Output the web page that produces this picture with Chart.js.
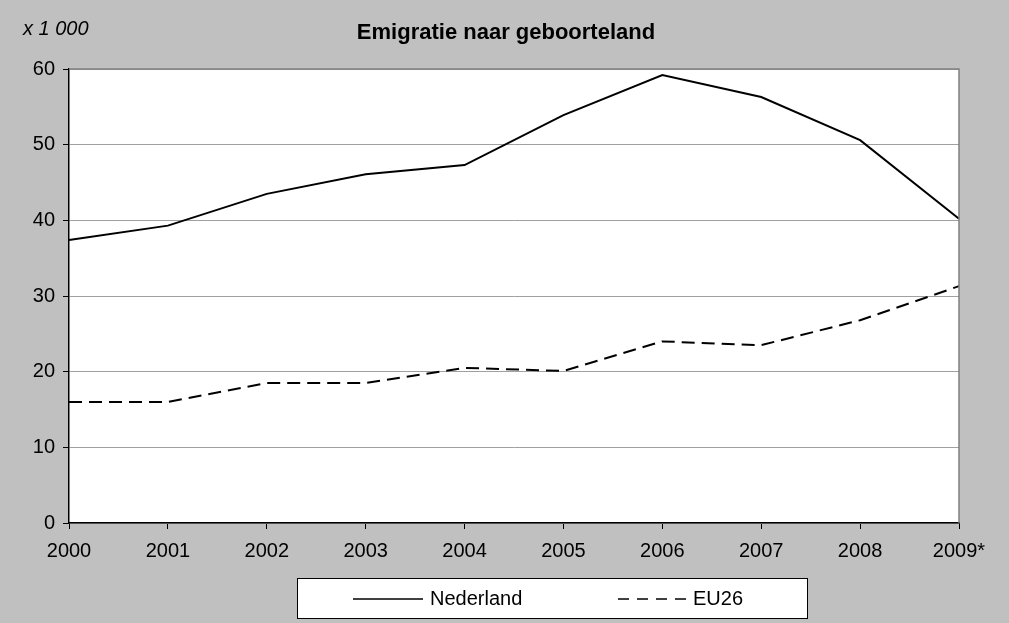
<!DOCTYPE html>
<html>
<head>
<meta charset="utf-8">
<script src="https://cdn.jsdelivr.net/npm/chart.js@4/dist/chart.umd.min.js"></script>
<style>
  html, body { margin: 0; padding: 0; background: #c0c0c0; }
  canvas { display: block; }
</style>
</head>
<body>
<canvas id="grafiek" width="1009" height="623"></canvas>
<script>
const jaren = ['2000', '2001', '2002', '2003', '2004', '2005', '2006', '2007', '2008', '2009*'];
const nederland = [37.4, 39.3, 43.5, 46.1, 47.3, 53.9, 59.2, 56.3, 50.6, 40.2];
const eu26 = [16.0, 16.0, 18.5, 18.5, 20.5, 20.1, 24.0, 23.5, 26.8, 31.3];
const reeksNamen = ['Nederland', 'EU26'];
const titel = 'Emigratie naar geboorteland';
const eenheid = 'x 1 000';

const lettertype = "'Liberation Sans', Arial, sans-serif";

// achtergrond van het plotvlak, kader en titel/legenda
const kaderPlugin = {
  id: 'kader',
  beforeDraw(chart) {
    const { ctx, chartArea: a } = chart;
    ctx.save();
    ctx.fillStyle = '#ffffff';
    ctx.fillRect(a.left, a.top, a.right - a.left, a.bottom - a.top);
    ctx.restore();
  },
  afterDraw(chart) {
    const { ctx, chartArea: a } = chart;
    ctx.save();
    // bovenste en rechter rand
    ctx.strokeStyle = '#808080';
    ctx.lineWidth = 1.5;
    ctx.beginPath();
    ctx.moveTo(a.left, a.top);
    ctx.lineTo(a.right, a.top);
    ctx.lineTo(a.right, a.bottom);
    ctx.stroke();

    // titel
    ctx.fillStyle = '#000';
    ctx.textBaseline = 'middle';
    ctx.textAlign = 'center';
    ctx.font = 'bold 22px ' + lettertype;
    ctx.fillText(titel, 506, 33);

    ctx.textAlign = 'left';
    ctx.font = 'italic 20px ' + lettertype;
    ctx.fillText(eenheid, 23, 29);

    // legenda
    ctx.fillStyle = '#fff';
    ctx.fillRect(297, 578, 510, 41);
    ctx.strokeStyle = '#000';
    ctx.lineWidth = 1;
    ctx.strokeRect(297.5, 578.5, 510, 40);

    ctx.lineWidth = 1.5;
    ctx.beginPath();
    ctx.moveTo(353, 599);
    ctx.lineTo(423, 599);
    ctx.stroke();

    ctx.setLineDash([11, 8]);
    ctx.beginPath();
    ctx.moveTo(618, 599);
    ctx.lineTo(686, 599);
    ctx.stroke();
    ctx.setLineDash([]);

    ctx.fillStyle = '#000';
    ctx.font = '20px ' + lettertype;
    ctx.textBaseline = 'middle';
    ctx.fillText(reeksNamen[0], 430, 599);
    ctx.fillText(reeksNamen[1], 693, 599);
    ctx.restore();
  }
};

new Chart(document.getElementById('grafiek'), {
  type: 'line',
  data: {
    labels: jaren,
    datasets: [
      {
        label: reeksNamen[0],
        data: nederland,
        borderColor: '#000',
        borderWidth: 2,
        pointRadius: 0,
        tension: 0
      },
      {
        label: reeksNamen[1],
        data: eu26,
        borderColor: '#000',
        borderWidth: 2,
        borderDash: [13, 7],
        pointRadius: 0,
        tension: 0
      }
    ]
  },
  options: {
    responsive: false,
    animation: false,
    devicePixelRatio: 1,
    layout: { padding: { top: 69, right: 50, left: 0, bottom: 0 } },
    plugins: {
      legend: { display: false },
      tooltip: { enabled: false }
    },
    scales: {
      x: {
        offset: false,
        grid: { drawOnChartArea: false, drawTicks: true, tickLength: 6, tickColor: '#000' },
        border: { color: '#000', width: 1.5 },
        ticks: {
          color: '#000',
          font: { size: 20, family: lettertype },
          padding: 10,
          maxRotation: 0,
          autoSkip: false
        },
        afterFit: s => { s.height = 100; }
      },
      y: {
        min: 0,
        max: 60,
        grid: { color: '#a0a0a0', tickColor: '#000', tickLength: 6 },
        border: { color: '#000', width: 1.5 },
        ticks: {
          stepSize: 10,
          color: '#000',
          padding: 8,
          font: { size: 20, family: lettertype }
        },
        afterFit: s => { s.width = 69; }
      }
    }
  },
  plugins: [kaderPlugin]
});
</script>
</body>
</html>
